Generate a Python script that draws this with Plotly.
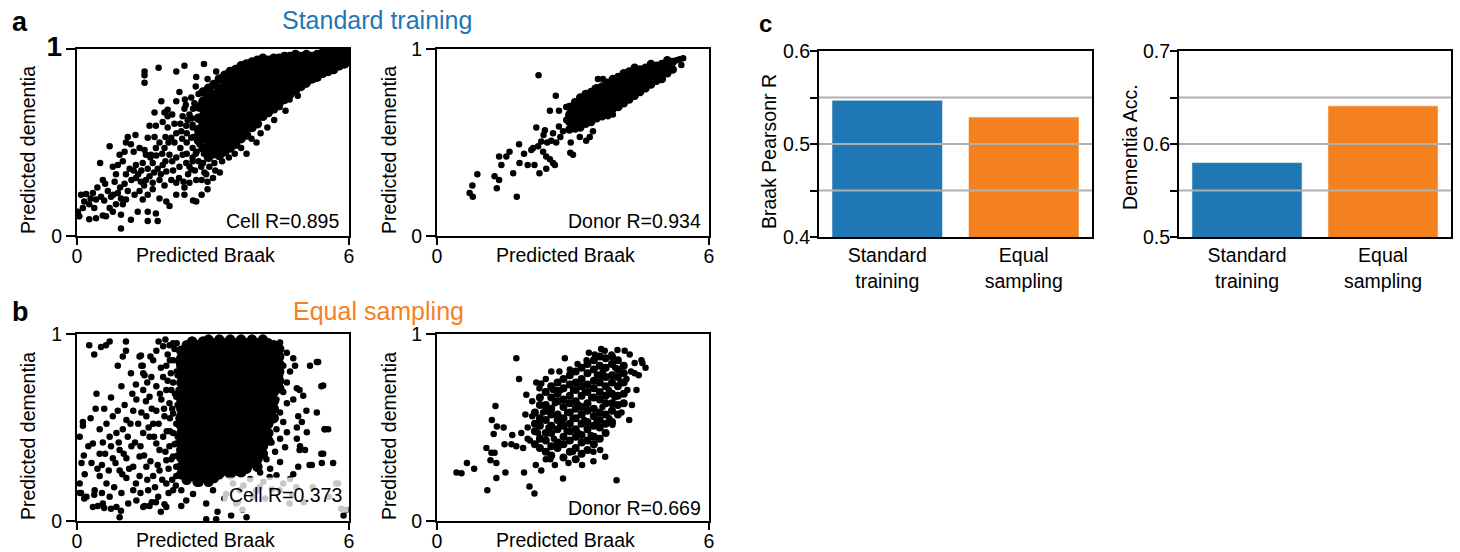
import plotly.graph_objects as go

W, H = 1460, 552
FONT = "Liberation Sans, Arial, sans-serif"
BLUE = "#1f77b4"
ORANGE = "#f5801f"

# ---------------- bar data ----------------
bar_categories = ["Standard<br>training", "Equal<br>sampling"]
braak_pearson_r = [0.547, 0.529]
dementia_acc = [0.580, 0.641]

# ---------------- scatter data (Predicted Braak, Predicted dementia) ----------------
std_cell_sparse = [
    (1.49, 0.88), (1.49, 0.86), (1.49, 0.82), (1.80, 0.90), (2.19, 0.88), (2.37, 0.91), (2.80, 0.92),
    (2.63, 0.85), (2.88, 0.84), (3.07, 0.88), (3.22, 0.83), (2.96, 0.80),
    (2.26, 0.77), (2.19, 0.72), (1.86, 0.72), (2.00, 0.675), (1.93, 0.66), (1.71, 0.66), (2.52, 0.74),
    (2.59, 0.71), (2.37, 0.68), (2.33, 0.64), (2.48, 0.65),
    (1.60, 0.59), (1.74, 0.59), (1.89, 0.61), (2.00, 0.58), (2.15, 0.60), (2.19, 0.55), (2.08, 0.525),
    (2.30, 0.56), (2.41, 0.59), (2.55, 0.595), (2.52, 0.525), (2.66, 0.55), (2.70, 0.49),
    (1.12, 0.53), (1.29, 0.54), (1.56, 0.525), (1.71, 0.53), (1.82, 0.50), (1.93, 0.47), (1.74, 0.47),
    (1.08, 0.50), (1.19, 0.49), (1.38, 0.47), (1.49, 0.46), (1.52, 0.435), (1.63, 0.435), (2.04, 0.435),
    (2.19, 0.42), (2.33, 0.435), (2.41, 0.39), (2.26, 0.37), (2.55, 0.40), (2.52, 0.355), (2.74, 0.37),
    (2.81, 0.34), (2.92, 0.37), (3.03, 0.39),
    (0.72, 0.48), (0.51, 0.39), (0.94, 0.435), (1.01, 0.40), (0.79, 0.37), (0.90, 0.38), (1.16, 0.36),
    (1.30, 0.38), (1.45, 0.39), (1.56, 0.36), (1.67, 0.39), (1.78, 0.36), (1.89, 0.38), (1.97, 0.345),
    (0.57, 0.30), (0.86, 0.33), (1.08, 0.33), (1.30, 0.31), (1.41, 0.29), (1.52, 0.30), (1.67, 0.285),
    (1.82, 0.30), (1.93, 0.27), (2.08, 0.30), (2.19, 0.285), (2.37, 0.26), (2.48, 0.285), (2.63, 0.30),
    (2.88, 0.29), (2.88, 0.25), (2.63, 0.185),
    (0.68, 0.24), (0.75, 0.21), (0.90, 0.23), (0.97, 0.20), (1.08, 0.195), (0.86, 0.17), (1.01, 0.17),
    (1.27, 0.22), (1.38, 0.24), (1.45, 0.195), (1.56, 0.22), (1.67, 0.25), (1.82, 0.20), (1.97, 0.185),
    (2.04, 0.16), (2.19, 0.22), (2.37, 0.22),
    (0.09, 0.22), (0.20, 0.225), (0.35, 0.23), (0.16, 0.185), (0.27, 0.17), (0.42, 0.195), (0.53, 0.21),
    (0.02, 0.13), (0.05, 0.105), (0.27, 0.09), (0.42, 0.095), (0.57, 0.11), (0.72, 0.15), (0.79, 0.13),
    (0.64, 0.105), (0.97, 0.114), (1.19, 0.087), (1.34, 0.13), (1.56, 0.13), (1.56, 0.08), (1.74, 0.12),
    (1.78, 0.08), (0.97, 0.04), (0.13, 0.15), (0.38, 0.15),
    (3.15, 0.34), (3.00, 0.31), (3.20, 0.40), (3.35, 0.42), (3.48, 0.44), (3.74, 0.44), (3.96, 0.50),
    (3.62, 0.47), (4.47, 0.69), (4.69, 0.73), (4.87, 0.75), (5.06, 0.81), (5.43, 0.87), (4.20, 0.58),
    (4.05, 0.55), (3.85, 0.52), (4.35, 0.62), (4.60, 0.67), (5.25, 0.84), (5.70, 0.90), (2.56, 0.19),
    (2.75, 0.22),
    (2.42, 0.44), (2.42, 0.50), (2.42, 0.55), (2.44, 0.62), (2.40, 0.70), (2.55, 0.42), (2.55, 0.47),
    (2.57, 0.53), (2.55, 0.58), (2.53, 0.63), (2.56, 0.68),
    (0.30, 0.20), (0.45, 0.26), (0.60, 0.19), (0.62, 0.28), (0.80, 0.22), (0.83, 0.29), (0.95, 0.26),
    (1.05, 0.28), (1.12, 0.24), (1.20, 0.30), (1.25, 0.35), (1.35, 0.33), (1.42, 0.35), (1.48, 0.27),
    (1.60, 0.32), (1.62, 0.42), (1.70, 0.34), (1.75, 0.43), (1.85, 0.33), (1.88, 0.44), (1.95, 0.40),
    (2.02, 0.50), (2.10, 0.40), (2.12, 0.35), (2.25, 0.31), (2.28, 0.47), (2.32, 0.52), (2.35, 0.29),
    (2.45, 0.33), (2.48, 0.37), (2.60, 0.35), (2.62, 0.44), (2.68, 0.40), (2.75, 0.30), (2.78, 0.39),
    (2.85, 0.33), (2.95, 0.43), (3.05, 0.35), (2.15, 0.50), (2.00, 0.64), (2.28, 0.60), (2.38, 0.73),
    (2.10, 0.65), (1.95, 0.53), (1.25, 0.45), (1.05, 0.45),
    (2.64, 0.45), (2.68, 0.76), (2.72, 0.62), (2.80, 0.44), (2.62, 0.80),
]
std_cell_core = [
    (2.68, [0.51, 0.57, 0.63, 0.69]),
    (2.78, [0.47, 0.52, 0.56, 0.60, 0.64, 0.68, 0.72, 0.77]),
    (2.90, [0.42, 0.46, 0.50, 0.54, 0.58, 0.62, 0.66, 0.70, 0.74, 0.79]),
    (3.02, [0.44, 0.48, 0.52, 0.56, 0.60, 0.64, 0.68, 0.72, 0.76, 0.81]),
    (3.14, [0.43, 0.47, 0.51, 0.55, 0.59, 0.63, 0.67, 0.71, 0.75, 0.79, 0.84]),
    (3.26, [0.45, 0.49, 0.53, 0.57, 0.61, 0.65, 0.69, 0.73, 0.77, 0.81, 0.86]),
    (3.38, [0.47, 0.51, 0.55, 0.59, 0.63, 0.67, 0.71, 0.75, 0.79, 0.83, 0.88]),
    (3.50, [0.49, 0.53, 0.57, 0.61, 0.65, 0.69, 0.73, 0.77, 0.81, 0.85, 0.89]),
    (3.62, [0.52, 0.56, 0.60, 0.64, 0.68, 0.72, 0.76, 0.80, 0.84, 0.88, 0.91]),
    (3.74, [0.54, 0.58, 0.62, 0.66, 0.70, 0.74, 0.78, 0.82, 0.86, 0.90, 0.92]),
    (3.86, [0.58, 0.62, 0.66, 0.70, 0.74, 0.78, 0.82, 0.86, 0.90, 0.93]),
    (3.98, [0.60, 0.64, 0.68, 0.72, 0.76, 0.80, 0.84, 0.88, 0.92, 0.94]),
    (4.10, [0.64, 0.68, 0.72, 0.76, 0.80, 0.84, 0.88, 0.92, 0.95]),
    (4.22, [0.66, 0.70, 0.74, 0.78, 0.82, 0.86, 0.90, 0.94]),
    (4.34, [0.68, 0.72, 0.76, 0.80, 0.84, 0.88, 0.92, 0.95]),
    (4.46, [0.71, 0.75, 0.79, 0.83, 0.87, 0.91, 0.95]),
    (4.58, [0.73, 0.77, 0.81, 0.85, 0.89, 0.93, 0.96]),
    (4.70, [0.76, 0.80, 0.84, 0.88, 0.92, 0.96]),
    (4.82, [0.78, 0.82, 0.86, 0.90, 0.94, 0.97]),
    (4.94, [0.80, 0.84, 0.88, 0.92, 0.96]),
    (5.06, [0.82, 0.86, 0.90, 0.94, 0.97]),
    (5.18, [0.84, 0.88, 0.92, 0.96]),
    (5.30, [0.85, 0.89, 0.93, 0.97]),
    (5.42, [0.87, 0.91, 0.95, 0.98]),
    (5.54, [0.88, 0.92, 0.96, 0.99]),
    (5.66, [0.89, 0.93, 0.97, 0.99]),
    (5.78, [0.91, 0.95, 0.98]),
    (5.90, [0.92, 0.96, 0.99]),
    (5.98, [0.94, 0.97, 0.99]),
]

std_donor_sparse = [
    (2.24, 0.86), (2.62, 0.75), (2.49, 0.67), (2.69, 0.67), (2.85, 0.69), (3.04, 0.72), (2.19, 0.58),
    (2.38, 0.565), (2.56, 0.55), (2.69, 0.585), (2.85, 0.62), (2.78, 0.56), (2.52, 0.51), (2.63, 0.50),
    (2.43, 0.50), (2.30, 0.505), (2.23, 0.48), (2.12, 0.47), (2.08, 0.46), (2.34, 0.45), (2.41, 0.425),
    (2.49, 0.41), (2.56, 0.39), (2.41, 0.36), (2.26, 0.335), (2.15, 0.38), (2.00, 0.38), (1.92, 0.44),
    (1.81, 0.49), (1.82, 0.39), (1.68, 0.335), (1.60, 0.45), (1.53, 0.425), (1.37, 0.425), (1.42, 0.38),
    (1.27, 0.32), (1.37, 0.30), (1.32, 0.255), (0.89, 0.33), (0.78, 0.27), (0.72, 0.23), (0.79, 0.21),
    (1.76, 0.21), (2.94, 0.445), (3.00, 0.435), (2.60, 0.38), (3.15, 0.53), (3.29, 0.51), (3.37, 0.53),
    (3.44, 0.56), (3.77, 0.64), (3.88, 0.65), (3.55, 0.84), (3.66, 0.84), (3.48, 0.79), (3.33, 0.73),
    (3.15, 0.73), (4.47, 0.78), (4.47, 0.82), (4.73, 0.85), (5.35, 0.945), (5.43, 0.95), (5.39, 0.915),
    (5.28, 0.94), (5.17, 0.93), (2.72, 0.53), (2.95, 0.50), (3.05, 0.57), (2.35, 0.54), (2.90, 0.64),
]
std_donor_core = [
    (2.92, [0.57, 0.61, 0.65, 0.69]),
    (3.04, [0.59, 0.63, 0.67, 0.71]),
    (3.16, [0.58, 0.62, 0.66, 0.70, 0.74]),
    (3.28, [0.60, 0.64, 0.68, 0.72, 0.76]),
    (3.40, [0.61, 0.65, 0.69, 0.73, 0.77]),
    (3.52, [0.63, 0.67, 0.71, 0.75, 0.79]),
    (3.64, [0.64, 0.68, 0.72, 0.76, 0.80]),
    (3.76, [0.66, 0.70, 0.74, 0.78, 0.82]),
    (3.88, [0.68, 0.72, 0.76, 0.80, 0.84]),
    (4.00, [0.69, 0.73, 0.77, 0.81, 0.85]),
    (4.12, [0.71, 0.75, 0.79, 0.83, 0.87]),
    (4.24, [0.73, 0.77, 0.81, 0.85, 0.88]),
    (4.36, [0.75, 0.79, 0.83, 0.87, 0.90]),
    (4.48, [0.77, 0.81, 0.85, 0.89]),
    (4.60, [0.79, 0.83, 0.87, 0.90]),
    (4.72, [0.81, 0.85, 0.89, 0.92]),
    (4.84, [0.83, 0.87, 0.91]),
    (4.96, [0.84, 0.88, 0.92]),
    (5.08, [0.87, 0.91, 0.94]),
    (5.20, [0.89, 0.93]),
]

eq_cell_sparse = [
    (0.27, 0.94), (0.38, 0.89), (0.53, 0.93), (0.64, 0.94), (0.72, 0.96), (1.08, 0.96), (1.08, 0.91),
    (1.01, 0.88), (0.90, 0.83), (1.41, 0.885), (1.45, 0.83), (1.19, 0.79), (1.49, 0.78),
    (0.43, 0.68), (0.41, 0.60), (0.13, 0.53), (0.13, 0.51), (0.06, 0.45),
    (0.50, 0.36), (0.32, 0.31), (0.10, 0.31), (0.17, 0.25), (0.06, 0.20), (0.06, 0.15), (0.21, 0.13),
    (0.39, 0.165), (0.50, 0.24), (0.65, 0.20), (0.72, 0.13), (0.87, 0.075), (0.57, 0.093), (0.35, 0.075),
    (0.98, 0.15), (1.13, 0.093), (1.24, 0.165), (1.38, 0.24), (1.24, 0.29), (0.94, 0.27), (0.79, 0.335),
    (0.94, 0.38), (1.09, 0.335), (1.20, 0.40), (1.38, 0.345), (1.53, 0.29), (1.68, 0.24), (1.57, 0.165),
    (1.79, 0.13), (1.46, 0.075), (1.31, 0.11), (1.97, 0.075), (2.12, 0.165), (1.97, 0.20), (1.82, 0.27),
    (1.97, 0.325),
    (0.87, 0.47), (1.01, 0.49), (0.72, 0.45), (0.57, 0.42), (0.35, 0.415), (0.50, 0.49), (0.65, 0.52),
    (0.79, 0.56), (0.90, 0.59), (1.09, 0.54), (1.24, 0.59), (1.35, 0.52), (1.46, 0.47), (1.53, 0.56),
    (1.68, 0.52), (1.60, 0.45), (1.75, 0.415), (1.90, 0.45), (2.04, 0.40), (1.82, 0.38),
    (1.31, 0.65), (1.46, 0.70), (1.60, 0.665), (1.75, 0.72), (1.64, 0.77), (1.46, 0.79), (1.42, 0.83),
    (1.38, 0.88), (1.68, 0.86), (1.75, 0.91), (1.90, 0.935), (2.04, 0.94), (2.00, 0.89), (2.15, 0.92),
    (2.12, 0.86), (1.97, 0.83), (1.90, 0.77), (2.07, 0.79), (1.97, 0.70), (2.12, 0.74), (1.86, 0.65),
    (2.04, 0.63), (2.19, 0.665), (1.75, 0.59), (1.93, 0.56), (2.12, 0.575), (2.19, 0.52), (2.12, 0.47),
    (2.19, 0.415), (2.12, 0.345), (2.19, 0.29), (2.19, 0.24),
    (2.22, 0.35), (2.22, 0.45), (2.24, 0.55), (2.22, 0.62), (2.24, 0.70), (2.22, 0.78), (2.24, 0.85),
    (2.20, 0.95), (2.05, 0.55), (2.05, 0.48), (2.08, 0.70), (2.02, 0.28), (2.10, 0.22),
    (2.30, 0.165), (2.41, 0.11), (2.56, 0.145), (2.71, 0.20), (2.85, 0.093), (3.07, 0.01), (3.00, 0.165),
    (3.29, 0.145), (3.51, 0.093), (3.59, 0.165), (3.74, 0.02), (3.88, 0.13), (3.44, 0.20), (4.03, 0.18),
    (4.25, 0.235), (4.47, 0.165), (4.69, 0.093), (4.84, 0.18), (1.09, 0.23),
    (0.09, 0.15), (0.16, 0.12), (0.38, 0.14), (0.46, 0.08), (0.60, 0.07), (0.75, 0.065), (0.97, 0.055),
    (0.94, 0.02), (1.49, 0.08), (1.60, 0.08), (1.74, 0.10), (1.93, 0.09), (2.30, 0.08), (2.85, 0.01),
    (5.14, 0.83), (5.29, 0.85), (5.43, 0.725), (5.29, 0.58), (5.47, 0.49), (5.54, 0.49), (4.88, 0.56),
    (4.96, 0.53), (4.85, 0.50), (5.07, 0.475), (4.85, 0.44), (4.92, 0.40), (5.03, 0.38), (5.43, 0.36),
    (5.18, 0.30), (5.40, 0.31), (5.65, 0.31), (4.88, 0.29), (4.77, 0.25), (4.70, 0.225), (5.76, 0.20),
    (5.88, 0.03), (5.32, 0.85), (5.39, 0.72), (5.39, 0.36), (5.46, 0.49), (5.72, 0.20), (5.83, 0.066),
    (5.13, 0.30), (4.91, 0.38), (5.06, 0.59), (4.91, 0.70),
    (4.48, 0.955), (4.63, 0.90), (4.77, 0.87), (4.81, 0.83), (4.70, 0.80), (4.55, 0.83), (4.48, 0.78),
    (4.63, 0.74), (4.85, 0.71), (4.99, 0.67), (4.77, 0.65), (4.55, 0.69), (4.40, 0.65), (4.63, 0.63),
    (4.48, 0.58), (4.33, 0.565), (4.55, 0.53), (4.40, 0.49), (4.63, 0.475), (4.48, 0.44), (4.29, 0.42),
    (4.59, 0.395), (4.37, 0.37), (4.18, 0.33), (4.48, 0.315), (4.26, 0.28), (4.04, 0.26), (4.40, 0.245),
    (3.82, 0.225), (4.11, 0.21), (3.67, 0.19), (4.33, 0.74), (4.26, 0.83), (4.37, 0.90), (4.22, 0.94),
    (4.11, 0.965),
    (3.10, 0.05), (3.25, 0.12), (3.40, 0.03), (3.55, 0.10), (3.65, 0.06), (3.95, 0.16), (4.15, 0.12),
    (4.30, 0.17), (4.55, 0.20), (4.75, 0.14), (5.00, 0.10), (5.20, 0.18), (5.55, 0.13), (5.95, 0.06),
    (0.55, 0.30), (0.62, 0.36), (0.70, 0.27), (0.75, 0.40), (0.82, 0.18), (0.85, 0.31), (0.92, 0.42),
    (1.00, 0.25), (1.03, 0.36), (1.12, 0.45), (1.15, 0.28), (1.18, 0.52), (1.28, 0.42), (1.30, 0.20),
    (1.40, 0.40), (1.42, 0.58), (1.48, 0.35), (1.52, 0.64), (1.55, 0.22), (1.58, 0.50), (1.62, 0.32),
    (1.65, 0.60), (1.70, 0.45), (1.72, 0.18), (1.78, 0.30), (1.80, 0.52), (1.83, 0.68), (1.85, 0.82),
    (1.88, 0.22), (1.92, 0.60), (1.95, 0.37), (1.98, 0.48), (2.00, 0.75), (2.02, 0.15), (2.05, 0.86),
    (2.08, 0.33), (2.10, 0.60), (2.12, 0.95), (2.15, 0.41), (2.16, 0.68), (2.18, 0.19), (2.20, 0.80),
    (1.55, 0.74), (1.62, 0.88), (1.80, 0.96), (1.95, 0.97), (1.30, 0.73), (1.22, 0.68), (1.05, 0.62),
    (0.98, 0.72), (0.60, 0.60), (0.75, 0.66), (0.30, 0.55), (0.25, 0.40), (0.45, 0.28), (0.15, 0.35),
    (0.55, 0.15), (1.40, 0.15), (1.65, 0.10), (1.85, 0.05),
]
eq_cell_core = [
    (2.30, [0.25, 0.29, 0.34, 0.38, 0.42, 0.47, 0.51, 0.56, 0.60, 0.65, 0.69, 0.74, 0.78, 0.83, 0.87, 0.91]),
    (2.42, [0.22, 0.27, 0.31, 0.36, 0.40, 0.44, 0.49, 0.53, 0.58, 0.62, 0.67, 0.71, 0.76, 0.80, 0.85, 0.89, 0.94]),
    (2.54, [0.24, 0.28, 0.33, 0.37, 0.42, 0.46, 0.51, 0.55, 0.60, 0.64, 0.69, 0.73, 0.78, 0.82, 0.87, 0.91, 0.96]),
    (2.66, [0.21, 0.26, 0.31, 0.35, 0.40, 0.44, 0.49, 0.53, 0.57, 0.62, 0.66, 0.71, 0.75, 0.80, 0.84, 0.89, 0.94]),
    (2.78, [0.23, 0.28, 0.33, 0.37, 0.42, 0.46, 0.51, 0.55, 0.60, 0.64, 0.69, 0.73, 0.78, 0.82, 0.87, 0.91, 0.96]),
    (2.90, [0.21, 0.26, 0.30, 0.35, 0.39, 0.44, 0.48, 0.53, 0.57, 0.62, 0.66, 0.71, 0.75, 0.80, 0.84, 0.89, 0.93, 0.97]),
    (3.02, [0.23, 0.28, 0.32, 0.37, 0.41, 0.46, 0.50, 0.55, 0.59, 0.64, 0.68, 0.73, 0.77, 0.82, 0.86, 0.91, 0.95]),
    (3.14, [0.25, 0.30, 0.34, 0.39, 0.43, 0.48, 0.52, 0.57, 0.61, 0.66, 0.70, 0.75, 0.79, 0.84, 0.88, 0.93, 0.97]),
    (3.26, [0.27, 0.32, 0.36, 0.41, 0.45, 0.50, 0.54, 0.59, 0.63, 0.68, 0.72, 0.77, 0.81, 0.86, 0.90, 0.95]),
    (3.38, [0.25, 0.30, 0.34, 0.39, 0.43, 0.48, 0.52, 0.57, 0.61, 0.66, 0.70, 0.75, 0.79, 0.84, 0.88, 0.93, 0.97]),
    (3.50, [0.27, 0.32, 0.36, 0.41, 0.45, 0.50, 0.54, 0.59, 0.63, 0.68, 0.72, 0.77, 0.81, 0.86, 0.90, 0.95]),
    (3.62, [0.26, 0.30, 0.35, 0.39, 0.44, 0.48, 0.53, 0.57, 0.62, 0.66, 0.71, 0.75, 0.80, 0.84, 0.89, 0.93, 0.97]),
    (3.74, [0.28, 0.33, 0.37, 0.42, 0.46, 0.51, 0.55, 0.60, 0.64, 0.69, 0.73, 0.78, 0.82, 0.87, 0.91, 0.95]),
    (3.86, [0.31, 0.35, 0.40, 0.44, 0.49, 0.53, 0.58, 0.62, 0.67, 0.71, 0.76, 0.80, 0.85, 0.89, 0.93, 0.97]),
    (3.98, [0.29, 0.33, 0.38, 0.42, 0.47, 0.51, 0.56, 0.60, 0.65, 0.69, 0.74, 0.78, 0.83, 0.87, 0.91, 0.95]),
    (4.10, [0.36, 0.40, 0.45, 0.49, 0.54, 0.58, 0.63, 0.67, 0.72, 0.76, 0.81, 0.85, 0.89, 0.93, 0.97]),
    (4.22, [0.43, 0.47, 0.52, 0.56, 0.61, 0.65, 0.70, 0.74, 0.79, 0.83, 0.87, 0.91, 0.95]),
    (4.34, [0.55, 0.60, 0.64, 0.69, 0.73, 0.78, 0.82, 0.86, 0.90, 0.94]),
    (4.46, [0.71, 0.75, 0.80, 0.84, 0.88, 0.92]),
]

eq_donor_sparse = [
    (1.75, 0.87), (1.81, 0.76), (2.82, 0.87), (1.29, 0.615), (1.21, 0.54), (1.32, 0.505), (1.47, 0.50),
    (1.25, 0.465), (1.49, 0.41), (1.09, 0.39), (1.20, 0.365), (1.27, 0.365), (1.18, 0.325), (1.31, 0.31),
    (1.51, 0.26), (1.31, 0.23), (0.66, 0.31), (0.43, 0.26), (0.54, 0.255), (0.82, 0.28), (1.11, 0.165),
    (2.04, 0.185), (2.15, 0.147), (1.92, 0.26), (2.18, 0.30), (2.30, 0.27), (2.78, 0.227), (3.96, 0.218),
    (3.71, 0.343), (1.66, 0.46), (1.64, 0.41), (1.75, 0.40), (1.90, 0.39), (1.86, 0.47), (1.97, 0.675),
    (2.19, 0.74), (2.30, 0.735), (2.26, 0.71), (2.52, 0.80), (2.56, 0.70), (2.63, 0.70), (2.93, 0.81),
    (3.48, 0.89), (3.98, 0.915), (4.14, 0.91), (4.25, 0.89), (4.36, 0.845), (4.51, 0.86), (4.53, 0.845),
    (4.36, 0.79), (4.40, 0.70), (4.24, 0.54), (4.07, 0.58), (3.87, 0.515),
    (2.00, 0.50), (2.05, 0.43), (2.10, 0.56), (2.40, 0.33), (2.60, 0.30), (2.90, 0.31), (3.20, 0.30),
    (3.45, 0.32), (3.60, 0.38), (3.30, 0.86), (3.10, 0.84), (3.70, 0.91), (3.85, 0.89), (4.20, 0.70),
    (4.30, 0.62),
    (2.23, 0.47), (2.34, 0.58), (2.46, 0.50), (2.58, 0.44), (2.60, 0.63), (2.72, 0.52), (2.73, 0.70),
    (2.86, 0.48), (2.87, 0.58), (2.99, 0.55), (3.00, 0.70), (3.12, 0.47), (3.13, 0.62), (3.25, 0.54),
    (3.26, 0.69), (3.39, 0.46), (3.40, 0.66), (3.52, 0.53), (3.53, 0.78), (3.65, 0.61), (3.66, 0.80),
    (3.79, 0.70), (3.80, 0.55), (3.92, 0.66), (3.93, 0.82), (4.05, 0.74), (4.18, 0.76), (3.45, 0.37),
    (3.00, 0.37), (2.50, 0.33), (4.28, 0.80), (4.45, 0.78), (4.60, 0.82), (3.35, 0.90), (3.62, 0.92),
    (2.70, 0.80), (2.40, 0.76), (2.10, 0.64), (2.00, 0.44), (1.95, 0.57),
]
eq_donor_core = [
    (2.16, [0.41, 0.48, 0.52, 0.58]),
    (2.27, [0.39, 0.44, 0.51, 0.55, 0.62, 0.66]),
    (2.40, [0.37, 0.43, 0.47, 0.54, 0.59, 0.62, 0.69]),
    (2.52, [0.35, 0.40, 0.47, 0.51, 0.57, 0.60, 0.66, 0.72]),
    (2.66, [0.39, 0.42, 0.49, 0.54, 0.57, 0.64, 0.68, 0.74]),
    (2.79, [0.34, 0.41, 0.45, 0.51, 0.55, 0.61, 0.65, 0.71, 0.76]),
    (2.93, [0.37, 0.43, 0.48, 0.52, 0.58, 0.63, 0.67, 0.73, 0.78]),
    (3.06, [0.33, 0.39, 0.45, 0.49, 0.55, 0.60, 0.64, 0.70, 0.74, 0.80]),
    (3.19, [0.36, 0.42, 0.46, 0.52, 0.57, 0.61, 0.67, 0.72, 0.76, 0.82]),
    (3.32, [0.38, 0.43, 0.49, 0.53, 0.59, 0.63, 0.69, 0.73, 0.79, 0.84]),
    (3.46, [0.41, 0.45, 0.51, 0.56, 0.60, 0.66, 0.71, 0.75, 0.81, 0.86]),
    (3.59, [0.44, 0.50, 0.54, 0.58, 0.65, 0.69, 0.74, 0.78, 0.83, 0.88]),
    (3.72, [0.47, 0.52, 0.57, 0.63, 0.67, 0.72, 0.77, 0.82, 0.87]),
    (3.86, [0.53, 0.59, 0.63, 0.68, 0.74, 0.78, 0.84, 0.88]),
    (3.99, [0.57, 0.62, 0.67, 0.72, 0.77, 0.81, 0.86]),
    (4.12, [0.63, 0.68, 0.74, 0.79, 0.83]),
]

panel_r_texts = ["Cell R=0.895", "Donor R=0.934", "Cell R=0.373", "Donor R=0.669"]


def px(v):
    return v / W


def py(v):
    return 1 - v / H


def points(sparse, core):
    xs = [p[0] for p in sparse]
    ys = [p[1] for p in sparse]
    cx, cy = [], []
    for x0, col in core:
        cx += [x0] * len(col)
        cy += list(col)
    return xs, ys, cx, cy


fig = go.Figure()

panels = [
    ("x", "y", std_cell_sparse, std_cell_core, 9.5),
    ("x2", "y2", std_donor_sparse, std_donor_core, 8.5),
    ("x3", "y3", eq_cell_sparse, eq_cell_core, 10.5),
    ("x4", "y4", eq_donor_sparse, eq_donor_core, 8),
]
for xa, ya, sp, co, core_size in panels:
    xs, ys, cx, cy = points(sp, co)
    fig.add_trace(go.Scatter(x=cx, y=cy, mode="markers", xaxis=xa, yaxis=ya,
                             marker=dict(color="black", size=core_size, line=dict(width=0)),
                             hoverinfo="skip"))
    fig.add_trace(go.Scatter(x=xs, y=ys, mode="markers", xaxis=xa, yaxis=ya,
                             marker=dict(color="black", size=6.5, line=dict(width=0)),
                             hoverinfo="skip"))

fig.add_trace(go.Bar(x=bar_categories, y=braak_pearson_r, xaxis="x5", yaxis="y5",
                     marker=dict(color=[BLUE, ORANGE], line=dict(color="rgba(255,255,255,0.55)", width=1)),
                     width=0.81, hoverinfo="skip"))
fig.add_trace(go.Bar(x=bar_categories, y=dementia_acc, xaxis="x6", yaxis="y6",
                     marker=dict(color=[BLUE, ORANGE], line=dict(color="rgba(255,255,255,0.55)", width=1)),
                     width=0.81, hoverinfo="skip"))

tickfont = dict(family=FONT, size=19.5, color="black")
frame = dict(showline=True, linecolor="black", linewidth=2, mirror=True, showgrid=False,
             zeroline=False, ticks="outside", tickcolor="black", tickwidth=2, tickfont=tickfont,
             fixedrange=True, automargin=False)

colA = [px(77), px(349)]
colB = [px(437), px(709)]
rowA = [py(236), py(49)]
rowB = [py(521), py(334)]


def sx(domain, anchor):
    d = dict(frame)
    d.update(domain=domain, anchor=anchor, range=[0, 6], tickvals=[0, 6], ticktext=["0", "6"],
             ticklen=7, ticklabelstandoff=-5)
    return d


def sy(domain, anchor, big=False):
    d = dict(frame)
    top = "<b><span style='font-size:28px'>1</span></b>" if big else "1"
    d.update(domain=domain, anchor=anchor, range=[0, 1], tickvals=[0, 1], ticktext=["0", top], ticklen=9)
    return d


bar_x = dict(frame)
bar_x.update(ticks="", range=[-0.5, 1.5], type="category")
bar_y = dict(frame)
bar_y.update(ticklen=7, ticklabelstandoff=-4)

fig.update_layout(
    width=W, height=H, margin=dict(l=0, r=0, t=0, b=0, pad=0, autoexpand=False),
    plot_bgcolor="white", paper_bgcolor="white", showlegend=False,
    font=dict(family=FONT, color="black"),
    xaxis=sx(colA, "y"), yaxis=sy(rowA, "x", big=True),
    xaxis2=sx(colB, "y2"), yaxis2=sy(rowA, "x2"),
    xaxis3=sx(colA, "y3"), yaxis3=sy(rowB, "x3"),
    xaxis4=sx(colB, "y4"), yaxis4=sy(rowB, "x4"),
    xaxis5=dict(bar_x, domain=[px(819), px(1092)], anchor="y5"),
    yaxis5=dict(bar_y, domain=[py(237), py(51)], anchor="x5", range=[0.4, 0.6],
                tickvals=[0.4, 0.45, 0.5, 0.55, 0.6], ticktext=["0.4", "", "0.5", "", "0.6"]),
    xaxis6=dict(bar_x, domain=[px(1179), px(1451)], anchor="y6"),
    yaxis6=dict(bar_y, domain=[py(237), py(51)], anchor="x6", range=[0.5, 0.7],
                tickvals=[0.5, 0.55, 0.6, 0.65, 0.7], ticktext=["0.5", "", "0.6", "", "0.7"]),
)

shapes = []
for yref, vals in (("y5", [0.45, 0.5, 0.55]), ("y6", [0.55, 0.6, 0.65])):
    xref = "x5 domain" if yref == "y5" else "x6 domain"
    for v in vals:
        shapes.append(dict(type="line", xref=xref, yref=yref, x0=0, x1=1, y0=v, y1=v,
                           line=dict(color="#b0b0b0", width=2), layer="above"))
fig.update_layout(shapes=shapes)

ann = []


def text(x, y, s, size=19.5, color="black", angle=0, xanchor="center", yanchor="middle", **kw):
    ann.append(dict(x=px(x), y=py(y), xref="paper", yref="paper", text=s, showarrow=False,
                    textangle=angle, xanchor=xanchor, yanchor=yanchor,
                    font=dict(family=FONT, size=size, color=color), **kw))


text(377, 20, "Standard training", size=25, color=BLUE)
text(378, 311, "Equal sampling", size=25, color=ORANGE)
text(20, 22, "<b>a</b>", size=27)
text(20, 312, "<b>b</b>", size=27)
text(765, 24, "<b>c</b>", size=24)

for cx in (205, 565):
    text(cx, 255, "Predicted Braak")
    text(cx, 539.5, "Predicted Braak", borderpad=0)
for cx in (28, 389):
    text(cx, 150, "Predicted dementia", angle=-90)
    text(cx, 436, "Predicted dementia", angle=-90)
text(769, 152, "Braak Pearsonr R", angle=-90)
text(1130, 147, "Dementia Acc.", angle=-90)

text(341, 221, panel_r_texts[0], xanchor="right")
text(703, 221, panel_r_texts[1], xanchor="right")
text(349, 495, panel_r_texts[2], xanchor="right", bgcolor="rgba(255,255,255,0.78)", borderpad=6)
text(703, 508, panel_r_texts[3], xanchor="right")
fig.update_layout(annotations=ann)

fig.write_html("out.html", config={"displayModeBar": False, "staticPlot": True},
               post_script="document.body.style.margin='0px';document.body.style.overflow='hidden';")
